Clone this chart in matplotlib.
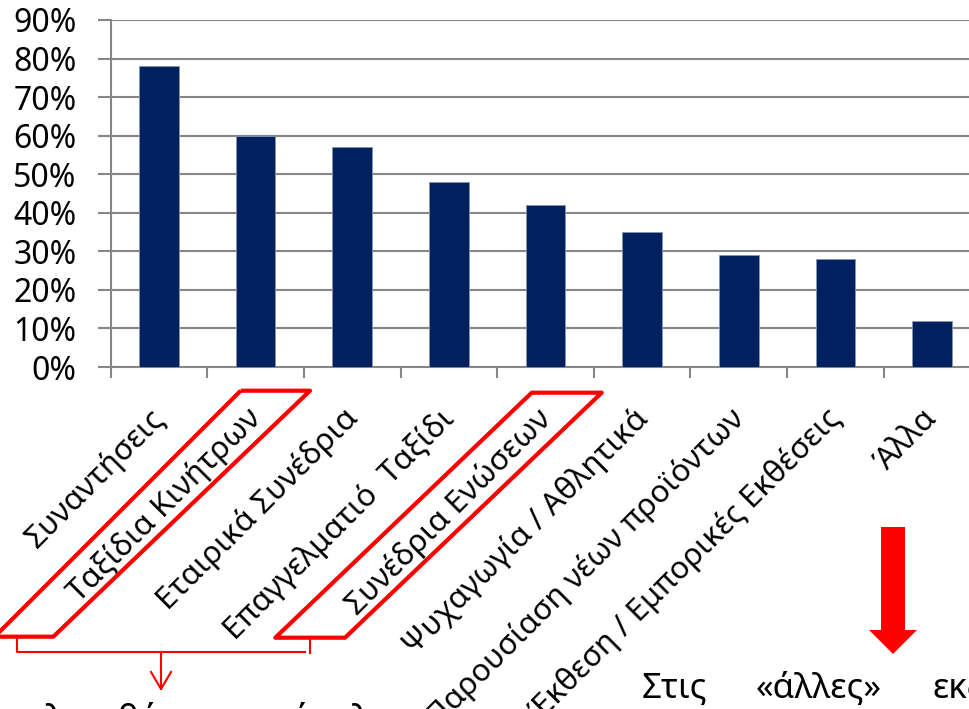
import numpy as np
import matplotlib
matplotlib.use("Agg")
import matplotlib.pyplot as plt
from matplotlib.patches import Polygon
from matplotlib.transforms import ScaledTranslation

plt.rcParams['font.family'] = ['Noto Sans', 'DejaVu Sans']

## ---------------- data ----------------
categories = [
    "Συναντήσεις",
    "Ταξίδια Κινήτρων",
    "Εταιρικά Συνέδρια",
    "Επαγγελματιό  Ταξίδι",
    "Συνέδρια Ενώσεων",
    "Ψυχαγωγία / Αθλητικά",
    "Παρουσίαση νέων προϊόντων",
    "Έκθεση / Εμπορικές Εκθέσεις",
    "Άλλα",
]
shares = [0.78, 0.60, 0.57, 0.48, 0.42, 0.35, 0.29, 0.28, 0.12]
y_ticks = [0.0, 0.1, 0.2, 0.3, 0.4, 0.5, 0.6, 0.7, 0.8, 0.9]
note_words = ["Στις", "«άλλες»", "εκδηλώσεις"]
note_left = "ολου θέματος σύνολο"

## ---------------- style ----------------
BAR_COLOR = '#002060'
GRID_COLOR = '#868686'
RED = '#FF0000'
W, H = 970, 709


def px_box(left, top, right, bottom):
    # pixel box (origin top-left) -> figure fraction
    return [left / W, 1 - bottom / H, (right - left) / W, (bottom - top) / H]


fig = plt.figure(figsize=(W / 100, H / 100), dpi=100)

## ---------------- bar chart ----------------
ax = fig.add_axes(px_box(110.7, 20, 980.3, 367))
x = np.arange(len(categories))
ax.bar(x, shares, width=0.41, color=BAR_COLOR, edgecolor='#8496B0',
       linewidth=0.6, zorder=3)
ax.set_xlim(-0.5, len(categories) - 0.5)
ax.set_ylim(0, 0.9)
ax.set_yticks(y_ticks)
ax.set_yticklabels([f"{int(round(v * 100))}%" for v in y_ticks], fontsize=23)
ax.yaxis.grid(True, color=GRID_COLOR, linewidth=1.5, zorder=0)
ax.set_axisbelow(True)
ax.tick_params(axis='y', length=9.4, width=1.5, color=GRID_COLOR, pad=15)

ax.set_xticks(x)
ax.set_xticklabels(categories, rotation=45, ha='right',
                   rotation_mode='anchor', fontsize=22.5)
ax.set_xticks(np.arange(-0.5, len(categories)), minor=True)
ax.tick_params(axis='x', which='major', length=0, pad=8)
ax.tick_params(axis='x', which='minor', length=8, width=1.5, color=GRID_COLOR)
## push rotated labels a bit down/left like the original
shift = ScaledTranslation(-7 / 72, -18 / 72, fig.dpi_scale_trans)
for lbl in ax.get_xticklabels():
    lbl.set_transform(lbl.get_transform() + shift)

for s in ['top', 'right']:
    ax.spines[s].set_visible(False)
for s in ['left', 'bottom']:
    ax.spines[s].set_color(GRID_COLOR)
    ax.spines[s].set_linewidth(1.5)

## ---------------- annotations (pixel overlay) ----------------
ov = fig.add_axes([0, 0, 1, 1], zorder=5)
ov.set_xlim(0, W)
ov.set_ylim(H, 0)
ov.axis('off')
ov.patch.set_alpha(0)

box1 = [(240.7, 390.7), (310, 390.7), (53.3, 636.7), (-5.3, 636.7)]
box2 = [(531.7, 392.7), (601.7, 392.7), (345, 637.7), (275.3, 637.7)]
for pts in (box1, box2):
    ov.add_patch(Polygon(pts, closed=True, fill=False, edgecolor=RED,
                         linewidth=3, joinstyle='round'))

## bracket + small arrow
ov.plot([16.7, 16.7, 305], [638, 652.3, 652.3], color=RED, lw=1.5)
ov.plot([310, 310], [638, 653], color=RED, lw=1.5)
ov.plot([161, 161], [652.3, 689], color=RED, lw=1.5)
ov.plot([151, 161, 171], [672, 689, 672], color=RED, lw=1.5)

## big arrow
ov.add_patch(Polygon([(881, 527), (905, 527), (905, 630), (917, 630),
                      (893, 654), (869, 630), (881, 630)],
                     closed=True, facecolor=RED, edgecolor='none'))

## bottom text (cut off by the frame, as in the original)
for word, xp in zip(note_words, [642, 756, 933]):
    ov.text(xp, 698, word, fontsize=25, va='baseline', ha='left')
ov.text(24, 731, note_left, fontsize=26, va='baseline', ha='left')

fig.savefig('out.png', dpi=100)
